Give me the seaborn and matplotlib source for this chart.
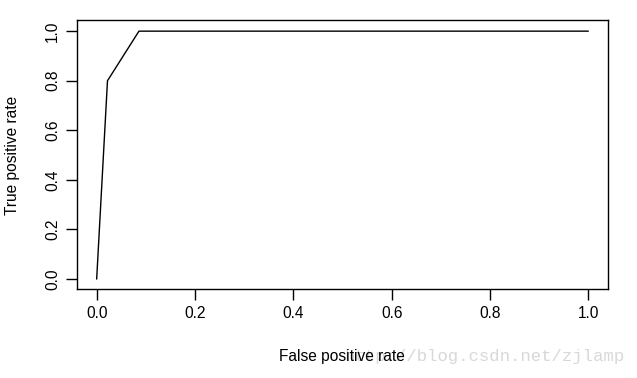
import matplotlib
matplotlib.use("Agg")
import matplotlib.pyplot as plt
import seaborn as sns
import pandas as pd

fpr = [0.0, 0.022, 0.086, 1.0]
tpr = [0.0, 0.80, 1.0, 1.0]
xticks = [0.0, 0.2, 0.4, 0.6, 0.8, 1.0]
yticks = [0.0, 0.2, 0.4, 0.6, 0.8, 1.0]

sns.set_theme(style="white")
plt.rcParams['font.family'] = ['Liberation Sans', 'DejaVu Sans']

df = pd.DataFrame({"fpr": fpr, "tpr": tpr})

fig = plt.figure(figsize=(6.37, 3.78), dpi=100)
ax = fig.add_axes([77/637, 1 - 289/378, (608 - 77)/637, (289 - 20)/378])
sns.lineplot(data=df, x="fpr", y="tpr", ax=ax, color="black", linewidth=1.0,
             sort=False, estimator=None)
ax.set_xlim(-0.04, 1.04)
ax.set_ylim(-0.04, 1.045)
ax.set_xticks(xticks)
ax.set_yticks(yticks)
ax.set_xticklabels([f"{v:.1f}" for v in xticks])
ax.set_yticklabels([f"{v:.1f}" for v in yticks], rotation=90, va="center")
ax.tick_params(axis="both", direction="out", length=8, width=1, color="black",
               labelsize=11.2, labelcolor="black", pad=4, bottom=True, left=True)
for s in ax.spines.values():
    s.set_visible(True)
    s.set_color("black")
    s.set_linewidth(1.0)
ax.set_xlabel("")
ax.set_ylabel("")
fig.text(625/637, 1 - 357/378, "http://blog.csdn.net/zjlamp", ha="right", va="center",
         fontsize=12.5, color="#d8d8d8", family=["Liberation Mono", "DejaVu Sans Mono"],
         zorder=1)
fig.text(342/637, 1 - 357/378, "False positive rate", ha="center", va="center",
         fontsize=11.2, color="black", zorder=5)
fig.text(13/637, 1 - 155/378, "True positive rate", ha="center", va="center",
         rotation=90, fontsize=11.2, color="black")
fig.savefig("out.png", dpi=100)
